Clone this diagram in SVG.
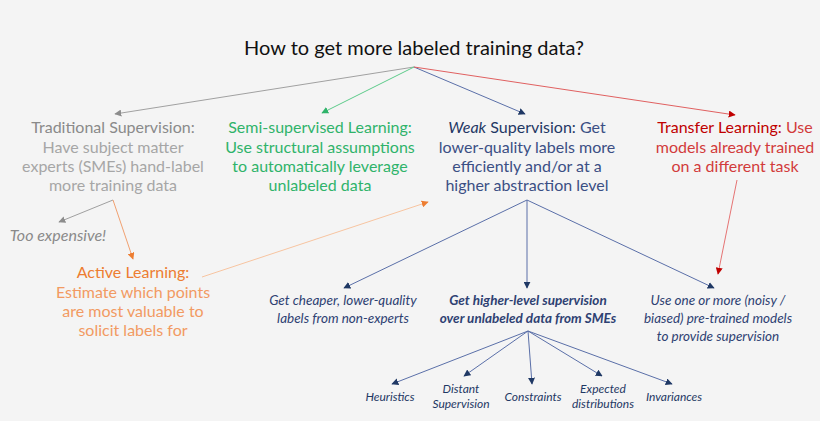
<svg xmlns="http://www.w3.org/2000/svg" width="820" height="421" viewBox="0 0 820 421">
<style>
text{font-family:Lato,"Open Sans","Liberation Sans",sans-serif;text-anchor:middle}
.t{font-size:20px;fill:#111}
.b{font-size:16px}
.s{font-size:13.5px;font-style:italic;fill:#2e4172}
.xs{font-size:12px;font-style:italic;fill:#1f3864}
.gray{fill:#a6a6a6}.grayh{fill:#8a8a8a}
.green{fill:#2fb36a}
.navy{fill:#3b4f84}.navyh{fill:#1f3864}
.red{fill:#d23b3b}.redh{fill:#c00000}
.or{fill:#f29a62}.orh{fill:#ed7d31}
.c line,.c path{fill:none;stroke-width:1}
</style>
<defs>
<marker id="ag" viewBox="0 0 10 10" refX="9" refY="5" markerWidth="7" markerHeight="7" markerUnits="userSpaceOnUse" orient="auto"><path d="M0,0L10,5L0,10z" fill="#8c8c8c"/></marker>
<marker id="agr" viewBox="0 0 10 10" refX="9" refY="5" markerWidth="7" markerHeight="7" markerUnits="userSpaceOnUse" orient="auto"><path d="M0,0L10,5L0,10z" fill="#2fb36a"/></marker>
<marker id="an" viewBox="0 0 10 10" refX="9" refY="5" markerWidth="7" markerHeight="7" markerUnits="userSpaceOnUse" orient="auto"><path d="M0,0L10,5L0,10z" fill="#1f3864"/></marker>
<marker id="ar" viewBox="0 0 10 10" refX="9" refY="5" markerWidth="7" markerHeight="7" markerUnits="userSpaceOnUse" orient="auto"><path d="M0,0L10,5L0,10z" fill="#c00000"/></marker>
<marker id="ao" viewBox="0 0 10 10" refX="9" refY="5" markerWidth="7" markerHeight="7" markerUnits="userSpaceOnUse" orient="auto"><path d="M0,0L10,5L0,10z" fill="#ed7d31"/></marker>
</defs>
<rect width="820" height="421" fill="#f4f4f4"/>

<g id="connectors" class="c">
<line x1="414" y1="67" x2="115" y2="114" stroke="#a0a0a0" marker-end="url(#ag)"/>
<line x1="414" y1="67" x2="322" y2="113" stroke="#5ccb8a" marker-end="url(#agr)"/>
<line x1="414" y1="67" x2="525" y2="114" stroke="#5a6fa8" marker-end="url(#an)"/>
<line x1="414" y1="67" x2="735" y2="115" stroke="#e06060" marker-end="url(#ar)"/>
<line x1="113" y1="200" x2="59" y2="222" stroke="#a0a0a0" marker-end="url(#ag)"/>
<line x1="113" y1="200" x2="133" y2="259" stroke="#f0a070" marker-end="url(#ao)"/>
<line x1="202" y1="277" x2="428" y2="202" stroke="#f7c4a0" marker-end="url(#ao)"/>
<line x1="737" y1="180" x2="718" y2="274" stroke="#e57373" marker-end="url(#ar)"/>
<line x1="527" y1="200" x2="344" y2="288" stroke="#5a6fa8" marker-end="url(#an)"/>
<line x1="527" y1="200" x2="527" y2="288" stroke="#5a6fa8" marker-end="url(#an)"/>
<line x1="527" y1="200" x2="714" y2="288" stroke="#5a6fa8" marker-end="url(#an)"/>
<line x1="528" y1="331" x2="392" y2="384" stroke="#5a6fa8" marker-end="url(#an)"/>
<line x1="528" y1="331" x2="464" y2="376" stroke="#5a6fa8" marker-end="url(#an)"/>
<line x1="528" y1="331" x2="532" y2="384" stroke="#5a6fa8" marker-end="url(#an)"/>
<line x1="528" y1="331" x2="602" y2="376" stroke="#5a6fa8" marker-end="url(#an)"/>
<line x1="528" y1="331" x2="672" y2="384" stroke="#5a6fa8" marker-end="url(#an)"/>
</g>

<g id="title"><text class="t" x="414" y="55">How to get more labeled training data?</text></g>

<g id="traditional">
<text class="b grayh" x="113" y="133">Traditional Supervision:</text>
<text class="b gray" x="113" y="153">Have subject matter</text>
<text class="b gray" x="113" y="172">experts (SMEs) hand-label</text>
<text class="b gray" x="113" y="191">more training data</text>
</g>

<g id="semi">
<text class="b green" x="320" y="133">Semi-supervised Learning:</text>
<text class="b green" x="320" y="153">Use structural assumptions</text>
<text class="b green" x="320" y="172">to automatically leverage</text>
<text class="b green" x="320" y="191">unlabeled data</text>
</g>

<g id="weak">
<text class="b" x="527" y="133"><tspan class="navyh" font-style="italic">Weak</tspan><tspan class="navyh"> Supervision:</tspan><tspan class="navy"> Get</tspan></text>
<text class="b navy" x="527" y="153">lower-quality labels more</text>
<text class="b navy" x="527" y="172">efficiently and/or at a</text>
<text class="b navy" x="527" y="191">higher abstraction level</text>
</g>

<g id="transfer">
<text class="b" x="735" y="133"><tspan class="redh">Transfer Learning:</tspan><tspan class="red"> Use</tspan></text>
<text class="b red" x="735" y="153">models already trained</text>
<text class="b red" x="735" y="172">on a different task</text>
</g>

<g id="expensive"><text class="b grayh" x="58" y="241" font-style="italic">Too expensive!</text></g>

<g id="active">
<text class="b orh" x="133" y="278">Active Learning:</text>
<text class="b or" x="133" y="298">Estimate which points</text>
<text class="b or" x="133" y="317">are most valuable to</text>
<text class="b or" x="133" y="336">solicit labels for</text>
</g>

<g id="cheaper">
<text class="s" x="343" y="305">Get cheaper, lower-quality</text>
<text class="s" x="343" y="323">labels from non-experts</text>
</g>

<g id="higher">
<text class="s" x="528" y="305" font-weight="bold" fill="#1f3864">Get higher-level supervision</text>
<text class="s" x="528" y="323" font-weight="bold" fill="#1f3864">over unlabeled data from SMEs</text>
</g>

<g id="pretrained">
<text class="s" x="718" y="305">Use one or more (noisy /</text>
<text class="s" x="718" y="323">biased) pre-trained models</text>
<text class="s" x="718" y="341">to provide supervision</text>
</g>

<g id="heuristics"><text class="xs" x="390" y="401">Heuristics</text></g>
<g id="distant"><text class="xs" x="461" y="393">Distant</text><text class="xs" x="461" y="408">Supervision</text></g>
<g id="constraints"><text class="xs" x="533" y="401">Constraints</text></g>
<g id="expected"><text class="xs" x="603" y="393">Expected</text><text class="xs" x="603" y="408">distributions</text></g>
<g id="invariances"><text class="xs" x="674" y="401">Invariances</text></g>
</svg>
